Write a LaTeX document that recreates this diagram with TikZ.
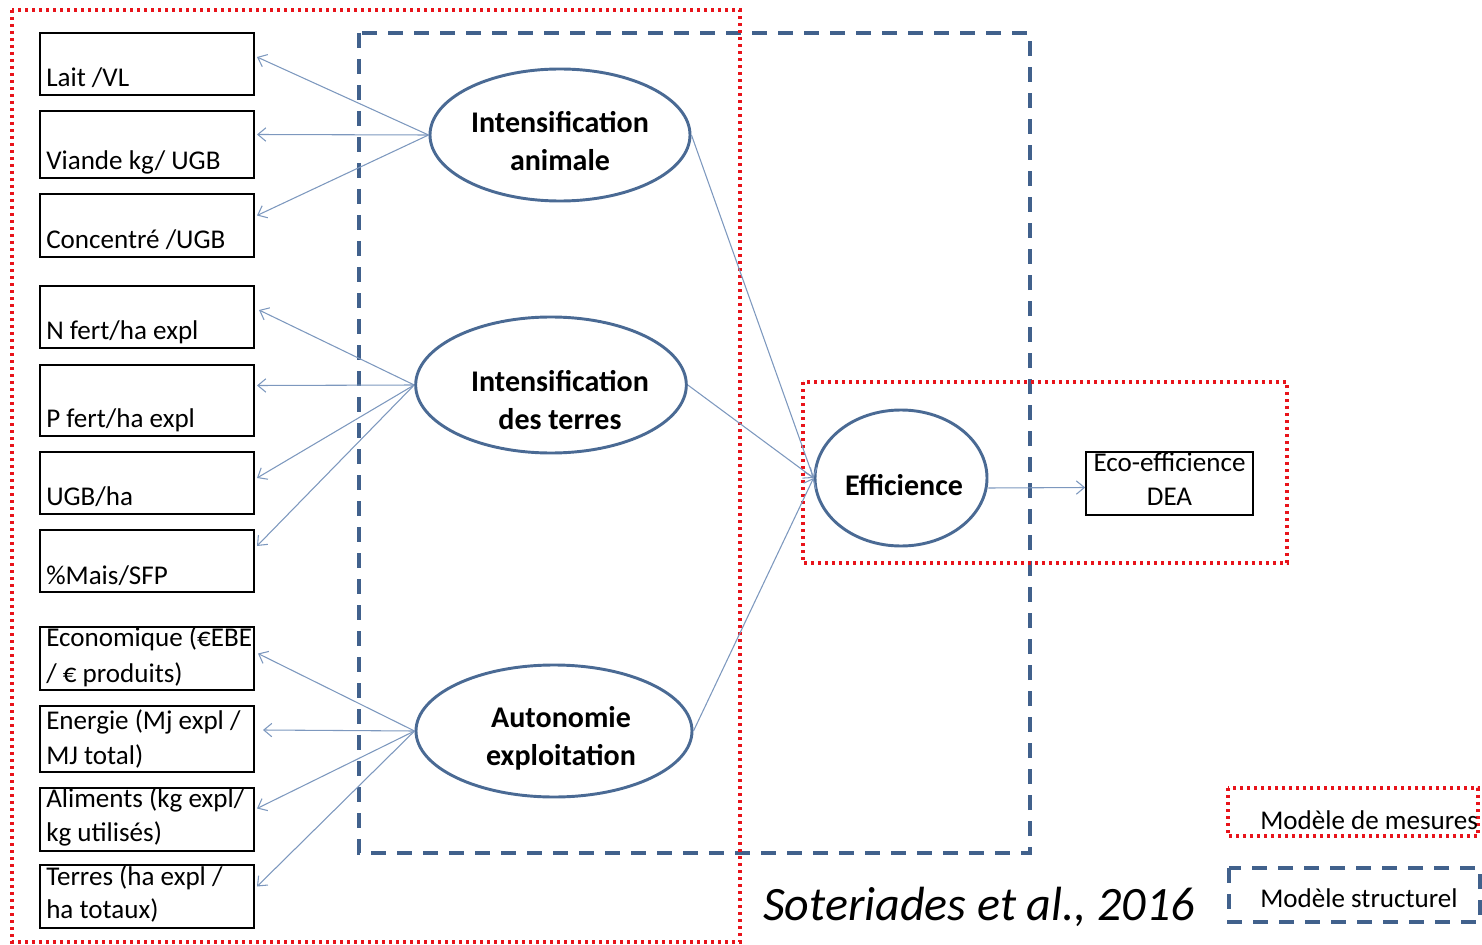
\documentclass[tikz,border=0pt]{standalone}
\usepackage{fontspec}
\setmainfont{Carlito}
\usetikzlibrary{arrows.meta,shapes.geometric,calc}
\definecolor{measred}{HTML}{E8141B}
\definecolor{structblue}{HTML}{41618C}
\definecolor{ellblue}{HTML}{4A6A94}
\definecolor{arrblue}{HTML}{7D98BE}
\tikzset{
  measframe/.style={draw=measred, line width=2.6pt, dash pattern=on 2.5pt off 2.75pt},
  structframe/.style={draw=structblue, line width=2.6pt, dash pattern=on 11pt off 8.5pt},
  indbox/.style={draw=black, line width=1.5pt, rectangle, inner sep=0pt, minimum width=160.5pt},
  plain/.style={anchor=base west, inner sep=0pt, font=\fontsize{20.3}{24}\selectfont},
  latent/.style={draw=ellblue, line width=2.2pt, ellipse, inner sep=0pt},
  latlabel/.style={anchor=base, inner sep=0pt, font=\fontsize{22.5}{26}\selectfont\bfseries},
  link/.style={draw=arrblue, line width=0.8pt, -{Straight Barb[length=6pt,width=10pt]}},
}
\begin{document}
\begin{tikzpicture}[x=0.75pt, y=-0.75pt]
\useasboundingbox (0,0) rectangle (1482,945);

% dashed structural frame
\draw[structframe] (359,33) rectangle (1030,853);
% dotted measurement frames
\draw[measframe] (12,10) rectangle (740,942);
\draw[measframe] (803,382) rectangle (1287,563);

% indicator boxes
\node[indbox, minimum height=46.5pt] (lait) at (147,64) {};
\node[indbox, minimum height=50pt] (viande) at (147,144.5) {};
\node[indbox, minimum height=47pt] (conc) at (147,225.5) {};
\node[indbox, minimum height=46.5pt] (nfert) at (147,317) {};
\node[indbox, minimum height=53pt] (pfert) at (147,400.5) {};
\node[indbox, minimum height=46.5pt] (ugb) at (147,483) {};
\node[indbox, minimum height=46.5pt] (mais) at (147,561) {};
\node[indbox, minimum height=47pt] (eco) at (147,658.5) {};
\node[indbox, minimum height=49.5pt] (ener) at (147,739) {};
\node[indbox, minimum height=47pt] (alim) at (147,819.5) {};
\node[indbox, minimum height=47pt] (terr) at (147,896.5) {};

\node[plain] (tlait) at (46,87) {Lait /VL};
\node[plain] (tviande) at (46,170) {Viande kg/ UGB};
\node[plain] (tconc) at (46,248) {Concentré /UGB};
\node[plain] (tnfert) at (46,339) {N fert/ha expl};
\node[plain] (tpfert) at (46,427) {P fert/ha expl};
\node[plain] (tugb) at (46,505) {UGB/ha};
\node[plain] (tmais) at (46,584) {\%Mais/SFP};
\node[plain] (teco1) at (46,646) {Economique (€EBE};
\node[plain] (teco2) at (46,682) {/ € produits)};
\node[plain] (tener1) at (46,729) {Energie (Mj expl /};
\node[plain] (tener2) at (46,764) {MJ total)};
\node[plain] (talim1) at (46,807) {Aliments (kg expl/};
\node[plain] (talim2) at (46,841) {kg utilisés)};
\node[plain] (tterr1) at (46,885) {Terres (ha expl /};
\node[plain] (tterr2) at (46,918) {ha totaux)};

% latent variables
\node[latent, minimum width=195pt, minimum height=99pt] (anim) at (560,135) {};
\node[latent, minimum width=203pt, minimum height=102pt] (terres) at (551,385) {};
\node[latent, minimum width=207pt, minimum height=99pt] (auto) at (554,731) {};
\node[latent, minimum width=129pt, minimum height=102pt] (eff) at (901,478) {};

\node[latlabel] (anim1) at (560,133) {Intensification};
\node[latlabel] (anim2) at (560,171) {animale};
\node[latlabel] (terres1) at (560,391) {Intensification};
\node[latlabel] (terres2) at (560,429) {des terres};
\node[latlabel] (auto1) at (561,727) {Autonomie};
\node[latlabel] (auto2) at (561,765) {exploitation};
\node[latlabel] (eff1) at (904,495) {Efficience};

\node[draw=black, line width=1.5pt, minimum width=125pt, minimum height=47pt, inner sep=0pt] (dea) at (1169.5,483.5) {};
\node[plain, anchor=base] (tdea1) at (1169.5,471) {Eco-efficience};
\node[plain, anchor=base] (tdea2) at (1169.5,505) {DEA};

% loadings
\draw[link] (anim.west) -- ($(lait.east)+(2,-7)$);
\draw[link] (anim.west) -- ($(viande.east)+(2,-10)$);
\draw[link] (anim.west) -- ($(conc.east)+(2,-10)$);
\draw[link] (terres.west) -- ($(nfert.east)+(4,-7)$);
\draw[link] (terres.west) -- ($(pfert.east)+(2,-15)$);
\draw[link] (terres.west) -- ($(ugb.east)+(2,-5)$);
\draw[link] (terres.west) -- ($(mais.east)+(2,-15)$);
\draw[link] (auto.west) -- ($(eco.east)+(3,-5)$);
\draw[link] (auto.west) -- ($(ener.east)+(8,-9)$);
\draw[link] (auto.west) -- ($(alim.east)+(2,-11)$);
\draw[link] (auto.west) -- ($(terr.east)+(2,-10)$);

% structural paths
\draw[link] (anim.east) -- (eff.west);
\draw[link] (terres.east) -- (eff.west);
\draw[link] (auto.east) -- (eff.west);
\draw[link] ($(eff.east)+(0,10)$) -- ($(dea.west)+(0,4)$);

% citation
\node[anchor=base west, inner sep=0pt, font=\fontsize{36}{40}\selectfont\itshape] (cite) at (763,920) {Soteriades et al., 2016};

% legend
\draw[measframe] (1228,788) rectangle (1478,836);
\node[plain] (lmes) at (1260,829) {Modèle de mesures};
\draw[structframe] (1229,868) rectangle (1480,922);
\node[plain] (lstr) at (1260,907) {Modèle structurel};
\end{tikzpicture}
\end{document}
